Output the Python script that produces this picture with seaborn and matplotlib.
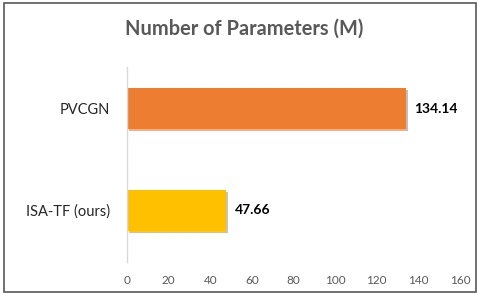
import seaborn as sns
import matplotlib.pyplot as plt
import matplotlib.patheffects as pe
from matplotlib.patches import Rectangle
import pandas as pd

models = ["PVCGN", "ISA-TF (ours)"]
params = [134.14, 47.66]
colors = ["#ED7D31", "#FFC000"]
x_ticks = [0, 20, 40, 60, 80, 100, 120, 140, 160]

sns.set_style("white")
plt.rcParams["font.family"] = ["Lato", "DejaVu Sans"]

df = pd.DataFrame({"model": models, "value": params})

fig = plt.figure(figsize=(4.78, 2.95), dpi=100)
ax = fig.add_axes([127 / 478, 1 - 262 / 295, 333 / 478, 195 / 295])

sns.barplot(data=df, y="model", x="value", hue="model", palette=colors,
            orient="h", width=0.4, saturation=1, linewidth=0, legend=False, ax=ax)
for bar in ax.patches:
    bar.set_path_effects([pe.SimplePatchShadow(offset=(1.2, -1.2), alpha=0.3), pe.Normal()])

# 数值标签
for i, v in enumerate(params):
    ax.text(v + 4, i, f"{v:.2f}", va="center", ha="left",
            fontsize=10, fontweight="bold", color="black")

ax.set_xlim(0, 160)
ax.set_ylim(1.505, -0.407)
ax.set_xticks(x_ticks)
ax.set_xticklabels([str(t) for t in x_ticks], fontsize=8.5, color="#595959")
ax.tick_params(axis="x", length=0, pad=9)
ax.tick_params(axis="y", length=0, pad=12, labelsize=10.5, labelcolor="#262626")
ax.set_xlabel("")
ax.set_ylabel("")
for s in ["top", "right", "bottom"]:
    ax.spines[s].set_visible(False)
ax.spines["left"].set_color("#D9D9D9")
ax.spines["left"].set_linewidth(1)

fig.text(244 / 478, 1 - 29 / 295, "Number of Parameters (M)", ha="center", va="center",
         fontsize=14.4, fontweight="bold", color="#595959")

# 外框
fig.patches.append(Rectangle((4 / 478, 3 / 295), 472 / 478, 289 / 295, transform=fig.transFigure,
                             fill=False, edgecolor="#595959", linewidth=1.2))

plt.savefig("out.png", dpi=100)
plt.close()
